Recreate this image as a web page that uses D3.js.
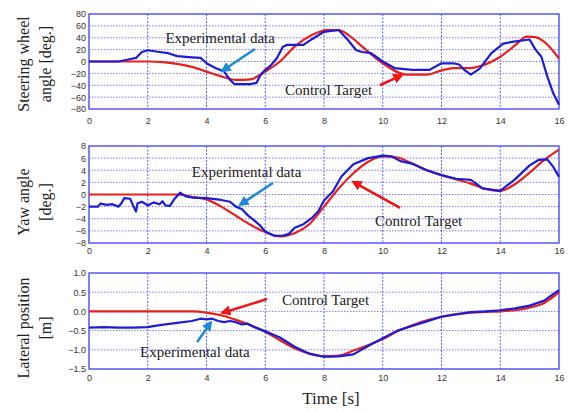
<!DOCTYPE html>
<html>
<head>
<meta charset="utf-8">
<script src="https://cdn.jsdelivr.net/npm/d3@7"></script>
<style>
  body { margin: 0; background: #fff; }
  .tick text { font-family: "Liberation Sans", Arial, sans-serif; font-size: 9px; fill: #333; }
</style>
</head>
<body>
<div id="chart"></div>
<script>
// time ticks shared by all panels
var timeTicks = [0, 2, 4, 6, 8, 10, 12, 14, 16];

// steering wheel angle [deg.]
var steerTicks = [80, 60, 40, 20, 0, -20, -40, -60, -80];
var steerTargetT = [0, 1, 2, 2.5, 3, 3.5, 4, 4.5, 5, 5.5, 5.8, 6, 6.5, 7, 7.6, 8.1, 8.5, 9, 9.3, 10, 10.8, 11.5, 12, 12.4, 13, 13.3, 14, 14.5, 14.9, 15.2, 15.5, 16];
var steerTarget  = [0, 0, 0, -1, -4, -9, -17, -25, -31, -30, -23, -17, 0, 25, 45, 53, 53, 38, 25, -3, -22, -22, -15, -11, -11, -8, 8, 27, 42, 41, 33, 5];
var steerExpT = [0, 1, 1.3, 1.6, 1.8, 2, 2.4, 2.7, 3, 3.5, 3.8, 4, 4.3, 4.6, 4.8, 4.95, 5.5, 5.7, 5.85, 6, 6.2, 6.4, 6.6, 6.75, 7.3, 7.6, 8, 8.5, 8.8, 9.1, 9.3, 9.6, 10, 10.4, 11, 11.6, 12, 12.4, 12.6, 12.8, 13, 13.3, 13.7, 14.1, 14.4, 15, 15.2, 15.4, 15.6, 15.8, 16];
var steerExp  = [0, 0, 3, 6, 16, 19, 16, 14, 9, 7, 6, -3, -11, -17, -31, -38, -38, -36, -22, -14, -6, 6, 25, 28, 28, 38, 50, 53, 37, 19, 16, 14, 0, -11, -14, -14, -3, -3, -5, -15, -22, -12, 14, 30, 33, 37, 20, 8, -25, -53, -73];

// yaw angle [deg.]
var yawTicks = [8, 6, 4, 2, 0, -2, -4, -6, -8];
var yawTargetT = [0, 1, 2, 3, 3.5, 4, 4.5, 5, 5.5, 6, 6.5, 7, 7.5, 8, 8.5, 9, 9.5, 10, 10.5, 11, 11.5, 12, 12.5, 13, 13.5, 14, 14.5, 15, 15.5, 16];
var yawTarget  = [0, 0, 0, 0, -0.4, -0.8, -2, -3.5, -5, -6.2, -6.9, -6.4, -4.9, -2, 1, 3.5, 5.4, 6.3, 6.1, 5.1, 4, 3.2, 2.5, 1.8, 0.9, 0.6, 1.7, 3.6, 5.7, 7.4];
var yawExpT = [0, 0.3, 0.4, 0.6, 0.8, 1, 1.1, 1.2, 1.4, 1.5, 1.6, 1.65, 1.8, 2, 2.2, 2.4, 2.5, 2.6, 2.75, 2.9, 3.1, 3.3, 3.5, 4, 4.5, 4.8, 5, 5.2, 5.4, 5.6, 5.8, 6, 6.3, 6.6, 6.8, 7, 7.3, 7.6, 7.8, 8, 8.3, 8.6, 9, 9.5, 10, 10.3, 10.6, 11, 11.5, 12, 12.5, 13, 13.4, 14, 14.5, 15, 15.3, 15.6, 15.8, 16];
var yawExp  = [-2, -2, -1.5, -1.7, -1.6, -2, -1.5, -0.6, -0.7, -1.8, -2.8, -1.5, -1.2, -1.8, -1.3, -1.6, -1.1, -1.8, -1.9, -0.8, 0.3, -0.3, -0.5, -0.6, -0.9, -1.2, -2, -2.4, -3.4, -4.2, -5, -6.1, -6.8, -6.8, -6.5, -5.5, -4.9, -3.8, -2.8, -1, 0.5, 3, 5, 6, 6.4, 6.3, 5.5, 5.1, 4, 3.2, 2.6, 2.4, 1, 0.6, 2.5, 4.8, 5.7, 5.8, 4.6, 2.9];

// lateral position [m]
var latTicks = [1, 0.5, 0, -0.5, -1, -1.5];
var latTargetT = [0, 1, 2, 3, 3.5, 4, 4.5, 5, 5.5, 6, 6.5, 7, 7.5, 8, 8.5, 9, 9.5, 10, 10.5, 11, 11.5, 12, 12.5, 13, 13.5, 14, 14.5, 15, 15.5, 16];
var latTarget  = [0, 0, 0, 0, 0, -0.03, -0.1, -0.22, -0.36, -0.53, -0.75, -0.96, -1.1, -1.17, -1.15, -1.02, -0.88, -0.72, -0.52, -0.36, -0.23, -0.14, -0.07, -0.03, -0.01, 0, 0.03, 0.1, 0.22, 0.5];
var latExpT = [0, 0.5, 1, 1.5, 2, 2.3, 2.6, 3, 3.5, 3.8, 4, 4.2, 4.4, 4.6, 4.8, 5, 5.2, 5.4, 5.6, 6, 6.5, 7, 7.5, 8, 8.5, 9, 9.5, 10, 10.5, 11, 11.5, 12, 12.5, 13, 13.5, 14, 14.5, 15, 15.5, 15.8, 16];
var latExp  = [-0.42, -0.41, -0.42, -0.42, -0.41, -0.37, -0.34, -0.3, -0.25, -0.19, -0.21, -0.19, -0.25, -0.28, -0.25, -0.28, -0.34, -0.32, -0.4, -0.52, -0.68, -0.92, -1.1, -1.18, -1.17, -1.12, -0.9, -0.7, -0.5, -0.38, -0.26, -0.14, -0.08, -0.02, 0, 0.03, 0.08, 0.15, 0.28, 0.45, 0.55];

var W = 569, H = 412;
var left = 89, right = 559;
var serif = "'Liberation Serif', 'Times New Roman', serif";

var panels = [
  { top: 14, bottom: 109, domain: [-80, 80], ticks: steerTicks, labelGap: 8,
    ylab: ["Steering wheel", "angle [deg.]"], yc: 64,
    target: [steerTargetT, steerTarget], exp: [steerExpT, steerExp],
    notes: [
      { text: "Experimental data", t: 2.6, v: 40, color: "#1e8ad6", from: [5.65, 21], to: [4.53, -16] },
      { text: "Control Target", t: 6.67, v: -48, color: "#f01414", from: [9.9, -40], to: [10.65, -23] }
    ] },
  { top: 146, bottom: 243, domain: [-8, 8], ticks: yawTicks, labelGap: 4,
    ylab: ["Yaw angle", "[deg.]"], yc: 202,
    target: [yawTargetT, yawTarget], exp: [yawExpT, yawExp],
    notes: [
      { text: "Experimental data", t: 3.5, v: 3.7, color: "#1e8ad6", from: [6.26, 1.9], to: [5.14, -1.7] },
      { text: "Control Target", t: 9.74, v: -4.4, color: "#f01414", from: [10.59, -2.2], to: [8.99, 2.1] }
    ] },
  { top: 273, bottom: 369, domain: [-1.5, 1], ticks: latTicks, labelGap: 5,
    ylab: ["Lateral position", "[m]"], yc: 328,
    target: [latTargetT, latTarget], exp: [latExpT, latExp],
    notes: [
      { text: "Control Target", t: 6.57, v: 0.3, color: "#f01414", from: [6.06, 0.32], to: [4.53, -0.04] },
      { text: "Experimental data", t: 1.74, v: -1.06, color: "#1e8ad6", from: [3.68, -0.8], to: [4.15, -0.28] }
    ] }
];

var svg = d3.select("#chart")
  .append("svg")
    .attr("width", W)
    .attr("height", H);

// arrow heads
var defs = svg.append("defs");
["#1e8ad6", "#f01414"].forEach(function(c, i) {
  defs.append("marker")
      .attr("id", "head" + i)
      .attr("viewBox", "0 0 10 10")
      .attr("refX", 8).attr("refY", 5)
      .attr("markerWidth", 4).attr("markerHeight", 4)
      .attr("orient", "auto")
    .append("path")
      .attr("d", "M0,0 L10,5 L0,10 z")
      .attr("fill", c);
});

var x = d3.scaleLinear().domain([0, 16]).range([left, right]);

panels.forEach(function(p) {
  var y = d3.scaleLinear().domain(p.domain).range([p.bottom, p.top]);
  var g = svg.append("g");

  // dotted grid
  g.append("g").selectAll("line.gx")
    .data(timeTicks.slice(1, -1))
    .enter().append("line")
      .attr("x1", function(d) { return x(d); })
      .attr("x2", function(d) { return x(d); })
      .attr("y1", p.top).attr("y2", p.bottom)
      .attr("stroke", "#5b5bf0").attr("stroke-width", 1)
      .attr("stroke-dasharray", "2,1.5");
  g.append("g").selectAll("line.gy")
    .data(p.ticks.slice(1, -1))
    .enter().append("line")
      .attr("y1", function(d) { return y(d); })
      .attr("y2", function(d) { return y(d); })
      .attr("x1", left).attr("x2", right)
      .attr("stroke", "#7a7af2").attr("stroke-width", 1)
      .attr("stroke-dasharray", "1.5,1.5");

  // axes
  var xa = g.append("g")
    .attr("transform", "translate(0," + (p.bottom + p.labelGap) + ")")
    .call(d3.axisBottom(x).tickValues(timeTicks).tickSize(0).tickPadding(0).tickFormat(d3.format("d")));
  xa.select(".domain").remove();
  xa.selectAll("text").attr("dy", "0.75em");

  var ya = g.append("g")
    .attr("transform", "translate(" + (left - 3) + ",0)")
    .call(d3.axisLeft(y).tickValues(p.ticks).tickSize(0).tickPadding(0));
  ya.select(".domain").remove();

  // frame
  g.append("rect")
    .attr("x", left).attr("y", p.top)
    .attr("width", right - left).attr("height", p.bottom - p.top)
    .attr("fill", "none").attr("stroke", "#5555f5").attr("stroke-width", 1.5);

  // lines
  var line = d3.line()
    .x(function(d) { return x(d[0]); })
    .y(function(d) { return y(d[1]); });

  g.append("path")
    .datum(d3.zip(p.target[0], p.target[1]))
    .attr("fill", "none").attr("stroke", "#e8201c").attr("stroke-width", 2.2)
    .attr("d", line.curve(d3.curveMonotoneX));

  g.append("path")
    .datum(d3.zip(p.exp[0], p.exp[1]))
    .attr("fill", "none").attr("stroke", "#1c1cd6").attr("stroke-width", 2.2)
    .attr("stroke-linejoin", "round")
    .attr("d", line.curve(d3.curveLinear));

  // y label, two lines rotated
  p.ylab.forEach(function(s, i) {
    g.append("text")
      .attr("transform", "translate(" + (23 + i * 22) + "," + p.yc + ") rotate(-90)")
      .attr("text-anchor", "middle")
      .attr("dy", "0.35em")
      .style("font-family", serif)
      .style("font-size", "16px")
      .style("fill", "#222")
      .text(s);
  });

  // annotations
  p.notes.forEach(function(n) {
    g.append("text")
      .attr("x", x(n.t)).attr("y", y(n.v))
      .attr("dy", "0.35em")
      .style("font-family", serif)
      .style("font-size", "15px")
      .style("fill", "#222")
      .text(n.text);
    g.append("line")
      .attr("x1", x(n.from[0])).attr("y1", y(n.from[1]))
      .attr("x2", x(n.to[0])).attr("y2", y(n.to[1]))
      .attr("stroke", n.color).attr("stroke-width", 2.6)
      .attr("marker-end", "url(#head" + (n.color == "#1e8ad6" ? 0 : 1) + ")");
  });
});

// x axis title
svg.append("text")
  .attr("x", 331).attr("y", 404)
  .attr("text-anchor", "middle")
  .style("font-family", serif)
  .style("font-size", "17px")
  .style("fill", "#222")
  .text("Time [s]");
</script>
</body>
</html>
